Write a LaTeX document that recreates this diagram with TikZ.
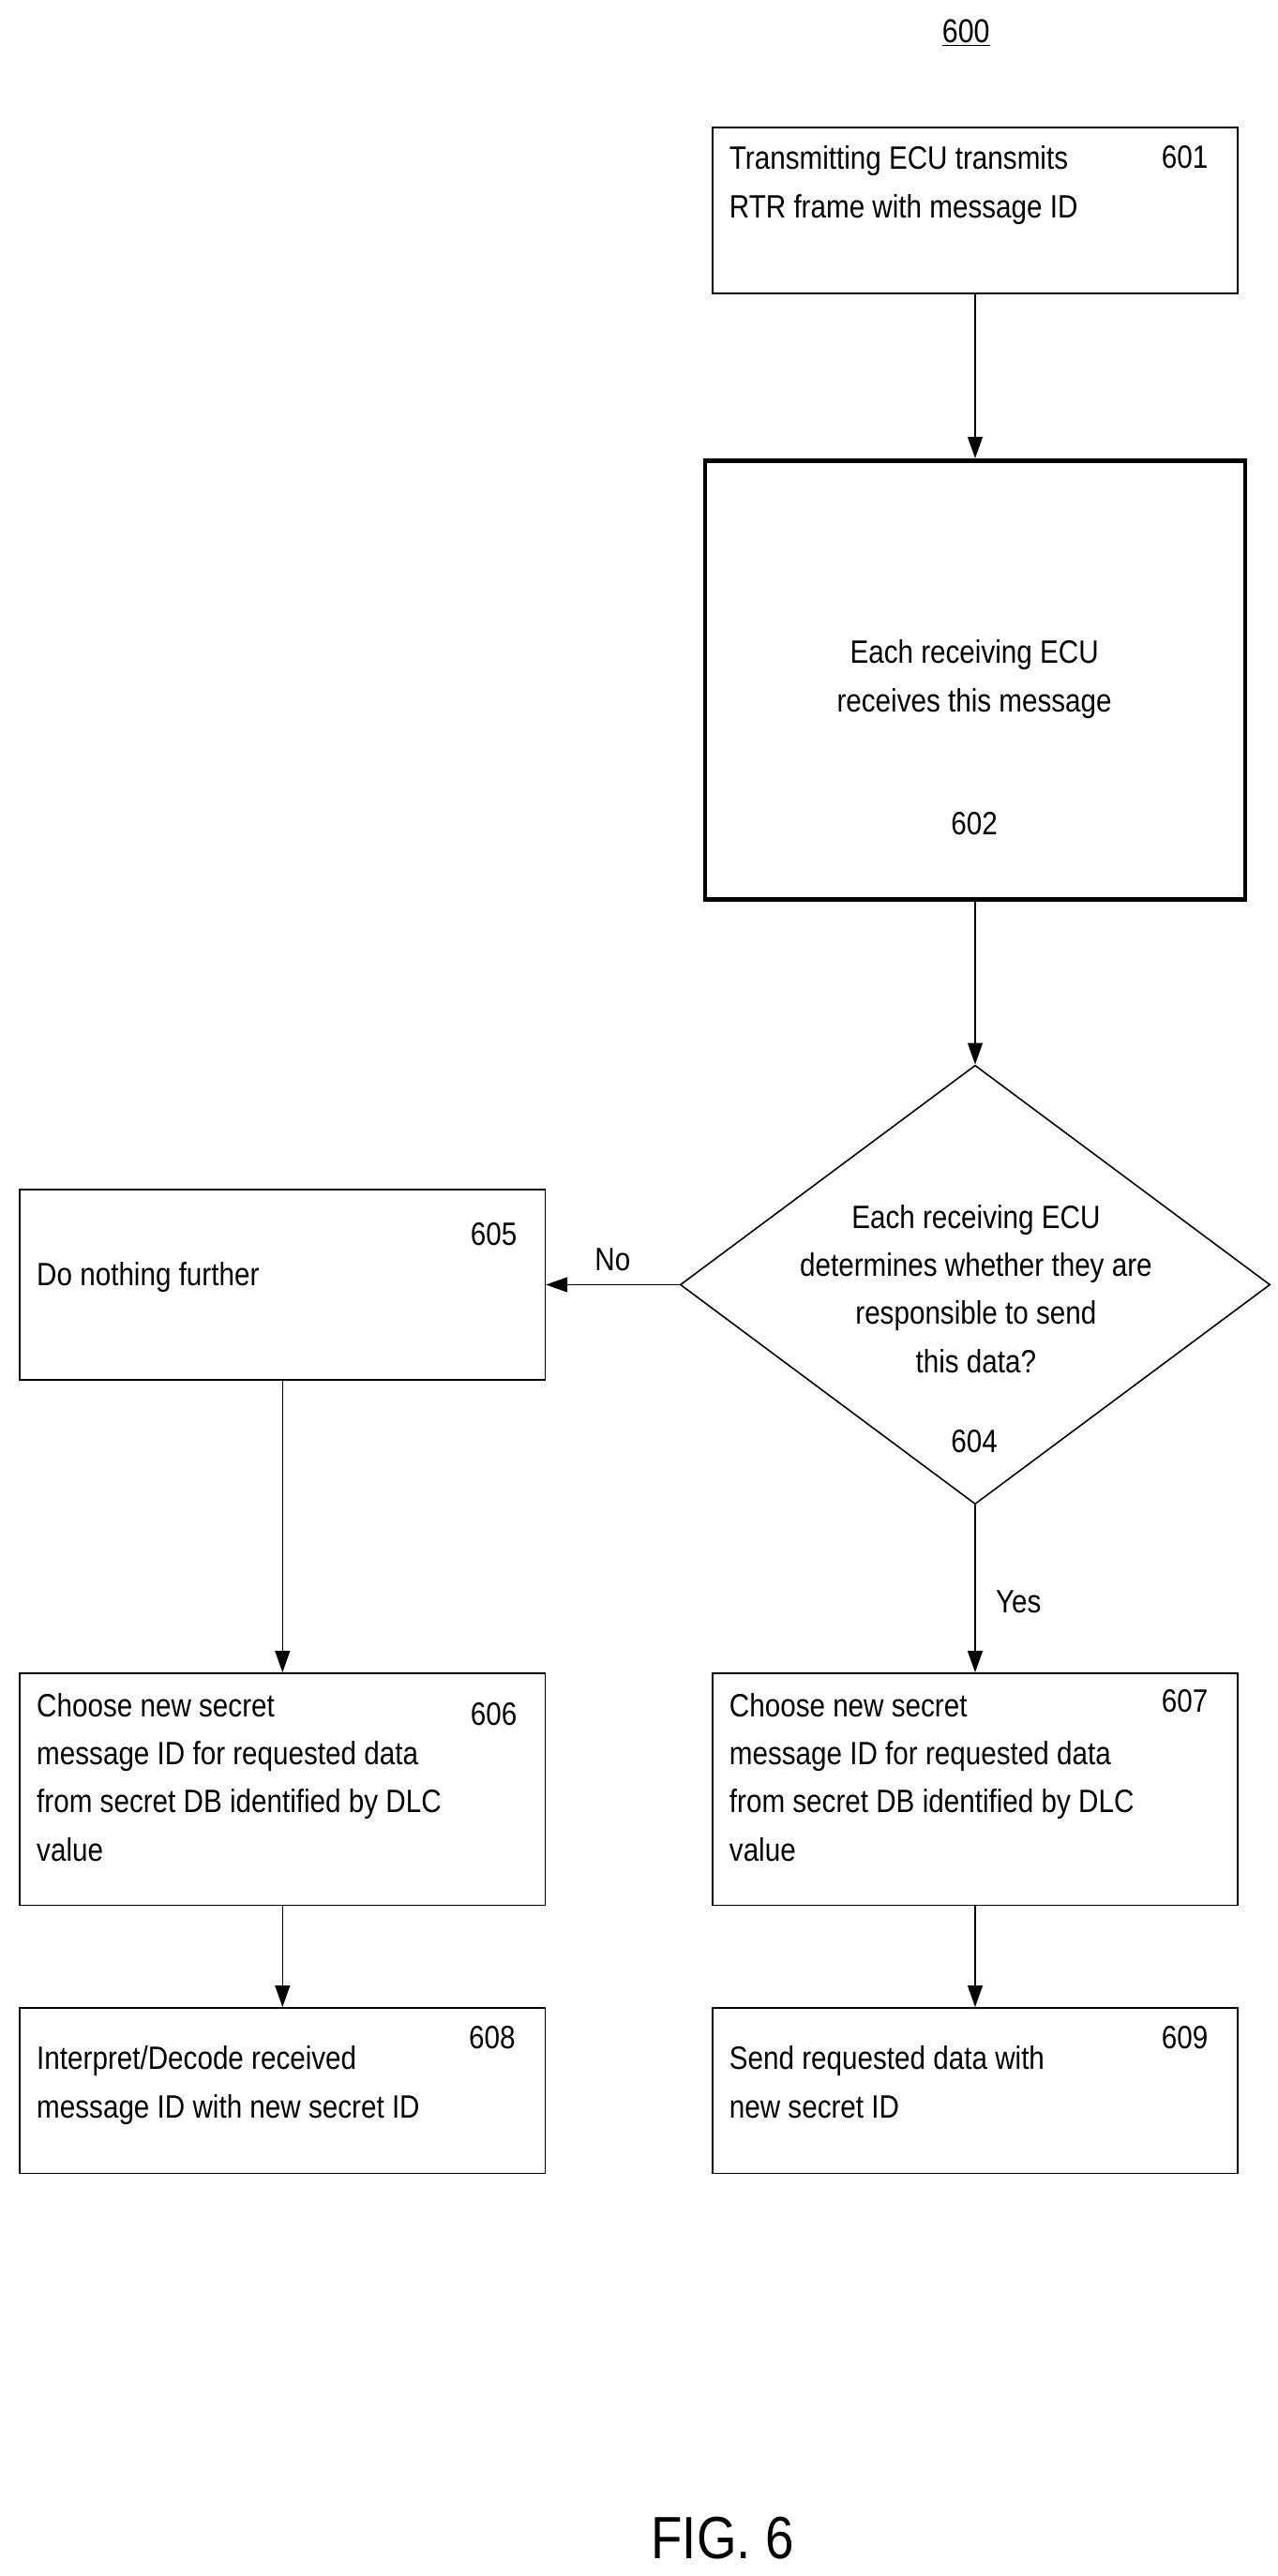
\documentclass[tikz,border=0pt]{standalone}
\usepackage{fontspec}
\setmainfont{Liberation Sans}[FakeStretch=0.86]
\usetikzlibrary{shapes.geometric,arrows.meta}
\begin{document}
\begin{tikzpicture}[x=1pt,y=-1pt,
  box/.style={draw,line width=0.9pt,minimum width=317pt,inner sep=0pt},
  txt/.style={font=\fontsize{19.5}{29}\selectfont,align=left,anchor=north west,inner sep=0pt},
  ctxt/.style={font=\fontsize{19.5}{29}\selectfont,align=center,inner sep=0pt},
  num/.style={font=\fontsize{19.5}{24}\selectfont,inner sep=0pt},
  arr/.style={line width=0.9pt,-{Triangle[length=13pt,width=9pt]}}]
\useasboundingbox (0,0) rectangle (771,1555);
\node[font=\fontsize{20}{24}\selectfont] (t600) at (583,20) {\underline{600}};
\node[box,minimum height=100pt] (b601) at (588.5,127) {};
\node[box,line width=2.6pt,minimum width=326pt,minimum height=265pt] (b602) at (588.5,410.5) {};
\node[draw,line width=0.9pt,diamond,minimum width=356pt,minimum height=265pt,inner sep=0pt] (b604) at (588.5,775.5) {};
\node[box,minimum height=115pt] (b605) at (170.5,775.5) {};
\node[box,minimum height=140pt] (b606) at (170.5,1080) {};
\node[box,minimum height=140pt] (b607) at (588.5,1080) {};
\node[box,minimum height=100pt] (b608) at (170.5,1262) {};
\node[box,minimum height=100pt] (b609) at (588.5,1262) {};
\node[txt] (x601) at (440,88) {Transmitting ECU transmits\\RTR frame with message ID};
\node[ctxt] (x602) at (588,410) {Each receiving ECU\\receives this message};
\node[ctxt] (x604) at (589,778) {Each receiving ECU\\determines whether they are\\responsible to send\\this data?};
\node[txt] (x605) at (22,762) {Do nothing further};
\node[txt] (x606) at (22,1022) {Choose new secret\\message ID for requested data\\from secret DB identified by DLC\\value};
\node[txt] (x607) at (440,1022) {Choose new secret\\message ID for requested data\\from secret DB identified by DLC\\value};
\node[txt] (x608) at (22,1235) {Interpret/Decode received\\message ID with new secret ID};
\node[txt] (x609) at (440,1235) {Send requested data with\\new secret ID};
\node[num] (n601) at (715,95) {601};
\node[num] (n602) at (588,497) {602};
\node[num] (n604) at (588,870) {604};
\node[num] (n605) at (298,745) {605};
\node[num] (n606) at (298,1035) {606};
\node[num] (n607) at (715,1027) {607};
\node[num] (n608) at (297,1230) {608};
\node[num] (n609) at (715,1230) {609};
\draw[arr] (b601.south) -- (b602.north);
\draw[arr] (b602.south) -- (b604.north);
\draw[arr] (b604.west) -- node[num,above,yshift=8pt] (lno) {No} (b605.east);
\draw[arr] (b604.south) -- node[num,right,xshift=12pt,yshift=-8pt] (lyes) {Yes} (b607.north);
\draw[arr] (b605.south) -- (b606.north);
\draw[arr] (b606.south) -- (b608.north);
\draw[arr] (b607.south) -- (b609.north);
\node[font=\fontsize{36}{40}\selectfont] (fig) at (436,1532) {FIG. 6};
\end{tikzpicture}
\end{document}
